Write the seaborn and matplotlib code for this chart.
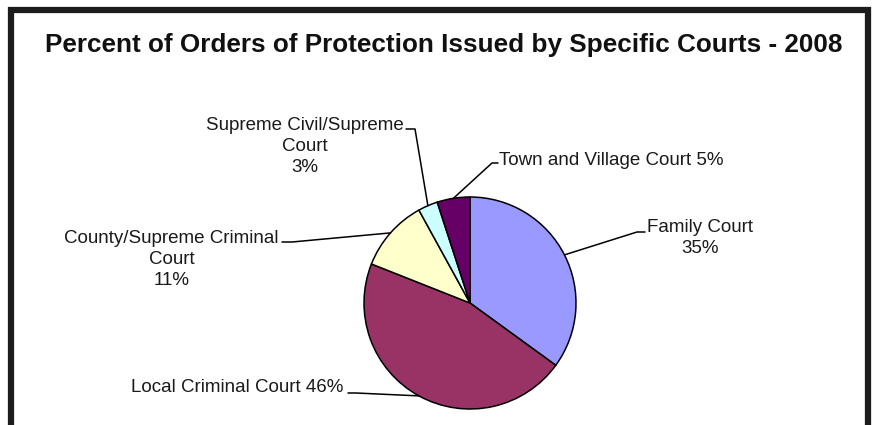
import numpy as np
import matplotlib
matplotlib.use("Agg")
import matplotlib.pyplot as plt
import seaborn as sns

# Share of orders of protection by court, 2008
courts = ["Family Court", "Local Criminal Court", "County/Supreme Criminal Court",
          "Supreme Civil/Supreme Court", "Town and Village Court"]
percents = [35, 46, 11, 3, 5]
label_texts = ["Family Court\n35%", "Local Criminal Court 46%",
               "County/Supreme Criminal\nCourt\n11%",
               "Supreme Civil/Supreme\nCourt\n3%", "Town and Village Court 5%"]
colors = ["#9999FF", "#993366", "#FFFFCC", "#CCFFFF", "#660066"]

sns.set_theme(style="white")
plt.rcParams["font.family"] = ["Liberation Sans", "DejaVu Sans"]

fig = plt.figure(figsize=(8.73, 4.25), dpi=100)
ax = fig.add_axes([0, 0, 1, 1])

# axes in pixel units, y pointing down like the picture
center = (470, 303)
radius = 106
wedges, _ = ax.pie(percents, colors=sns.color_palette(colors), startangle=-90,
                   counterclock=True, center=center, radius=radius, frame=True,
                   wedgeprops=dict(edgecolor="black", linewidth=1.1))
ax.set_xlim(0, 873)
ax.set_ylim(425, 0)
ax.axis("off")

# label layout: (text x, baseline of last line, ha, elbow point, end point)
layout = [
    (647, 253, "left", (637, 232), (645, 232)),
    (343, 392, "right", (356, 393), (348, 393)),
    (279, 285, "right", (292, 242), (282, 242)),
    (404, 172, "right", (415, 129), (406, 129)),
    (499, 165, "left", (492, 163), (498, 163)),
]

for w, txt, (tx, ty, ha, elbow, end) in zip(wedges, label_texts, layout):
    mid = np.deg2rad((w.theta1 + w.theta2) / 2)
    sx = center[0] + radius * np.cos(mid)
    sy = center[1] + radius * np.sin(mid)
    ax.plot([sx, elbow[0], end[0]], [sy, elbow[1], end[1]], color="black", lw=1.1)
    ax.text(tx, ty, txt, ha=ha, va="baseline", multialignment="center",
            fontsize=13.5, color="#1a1a1a", linespacing=1.3)

ax.text(444, 52, "Percent of Orders of Protection Issued by Specific Courts - 2008",
        ha="center", va="baseline", fontsize=18.8, fontweight="bold", color="#111111")

# dark frame around the chart (bottom edge is cut off in the original)
ax.plot([11, 11, 868, 868], [430, 9.5, 9.5, 430], color="#1c1c1c", lw=4.5,
        solid_joinstyle="miter", clip_on=False)

fig.savefig("out.png", dpi=100)
